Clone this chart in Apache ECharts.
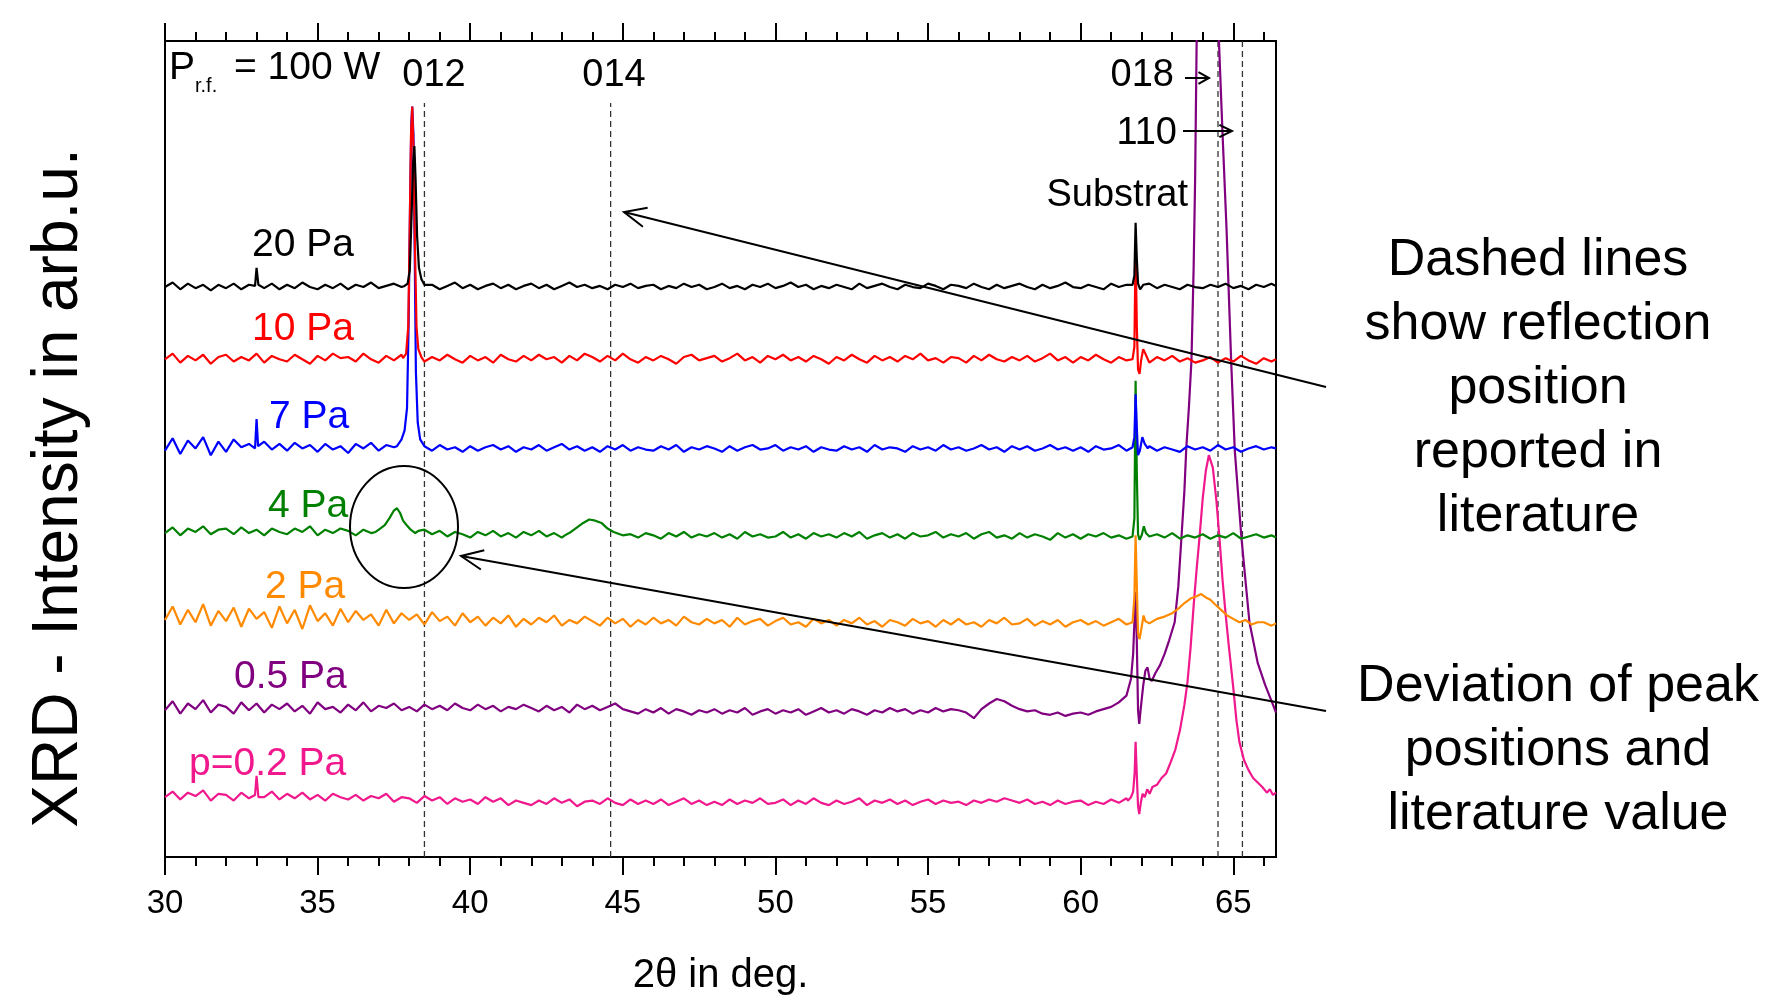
<!DOCTYPE html>
<html>
<head>
<meta charset="utf-8">
<title>XRD - pressure series</title>
<script src="https://cdn.jsdelivr.net/npm/echarts@6.0.0/dist/echarts.min.js"></script>
<style>
  html, body { margin: 0; padding: 0; background: #fff; }
  #chart { width: 1770px; height: 1001px; }
</style>
</head>
<body>
<div id="chart"></div>
<script>
// ========== data (intensity in arb. units) ==========

// 2theta grid of the baseline readings, 0.25 deg steps (one row = 2 deg)
const angles = [
  30, 30.25, 30.5, 30.75, 31, 31.25, 31.5, 31.75,
  32, 32.25, 32.5, 32.75, 33, 33.25, 33.5, 33.75,
  34, 34.25, 34.5, 34.75, 35, 35.25, 35.5, 35.75,
  36, 36.25, 36.5, 36.75, 37, 37.25, 37.5, 37.75,
  38, 38.25, 38.5, 38.75, 39, 39.25, 39.5, 39.75,
  40, 40.25, 40.5, 40.75, 41, 41.25, 41.5, 41.75,
  42, 42.25, 42.5, 42.75, 43, 43.25, 43.5, 43.75,
  44, 44.25, 44.5, 44.75, 45, 45.25, 45.5, 45.75,
  46, 46.25, 46.5, 46.75, 47, 47.25, 47.5, 47.75,
  48, 48.25, 48.5, 48.75, 49, 49.25, 49.5, 49.75,
  50, 50.25, 50.5, 50.75, 51, 51.25, 51.5, 51.75,
  52, 52.25, 52.5, 52.75, 53, 53.25, 53.5, 53.75,
  54, 54.25, 54.5, 54.75, 55, 55.25, 55.5, 55.75,
  56, 56.25, 56.5, 56.75, 57, 57.25, 57.5, 57.75,
  58, 58.25, 58.5, 58.75, 59, 59.25, 59.5, 59.75,
  60, 60.25, 60.5, 60.75, 61, 61.25, 61.5, 61.75,
  62, 62.25, 62.5, 62.75, 63, 63.25, 63.5, 63.75,
  64, 64.25, 64.5, 64.75, 65, 65.25, 65.5, 65.75,
  66, 66.25, 66.4
]

// 20 Pa
const base20 = [
  505, 509, 503, 508, 504, 507, 502, 507,
  504, 508, 503, 507, 506, 504, 508, 503,
  507, 504, 509, 505, 503, 507, 504, 508,
  503, 507, 505, 509, 504, 506, 508, 505,
  506, 508, 504, 507, 503, 506, 509, 504,
  507, 503, 506, 508, 504, 507, 503, 506,
  508, 504, 507, 503, 506, 509, 505, 507,
  504, 506, 503, 507, 505, 508, 504, 506,
  507, 503, 506, 504, 508, 505, 507, 503,
  505, 508, 504, 506, 503, 507, 505, 508,
  504, 506, 509, 505, 507, 503, 506, 504,
  507, 505, 503, 508, 504, 506, 508, 505,
  503, 507, 505, 504, 508, 506, 503, 507,
  506, 504, 508, 505, 503, 507, 504, 506,
  508, 505, 503, 507, 504, 506, 509, 505,
  504, 507, 505, 503, 508, 505, 507, 504,
  506, 508, 504, 507, 505, 503, 507, 505,
  504, 507, 505, 508, 504, 506, 503, 507,
  505, 508, 506
]
const peaks20 = [
  [[32.95, 506], [33.0, 522], [33.06, 507]],
  [[37.85, 506], [37.95, 508], [38.02, 520], [38.08, 570], [38.13, 615], [38.17, 630], [38.21, 600],
   [38.26, 550], [38.32, 522], [38.4, 512], [38.5, 507]],
  [[61.7, 507], [61.76, 515], [61.8, 562], [61.84, 530], [61.88, 508], [61.95, 503], [62.05, 507]]
]

// 10 Pa
const base10 = [
  441, 446, 438, 444, 440, 445, 437, 443,
  445, 439, 443, 440, 446, 438, 444, 441,
  439, 445, 441, 437, 444, 440, 446, 442,
  443, 439, 446, 441, 438, 444, 440, 445,
  441, 444, 439, 443, 440, 445, 441, 438,
  444, 440, 443, 438, 445, 441, 439, 444,
  440, 445, 441, 443, 438, 444, 440, 446,
  443, 439, 444, 440, 446, 441, 438, 443,
  440, 444, 441, 437, 443, 445, 440, 442,
  444, 439, 442, 446, 440, 443, 438, 444,
  441, 445, 440, 443, 439, 444, 441, 437,
  443, 440, 445, 441, 438, 444, 440, 443,
  439, 444, 441, 446, 440, 442, 438, 443,
  442, 438, 444, 440, 445, 441, 439, 443,
  440, 444, 439, 442, 446, 440, 443, 438,
  443, 440, 445, 441, 438, 443, 440, 444,
  441, 438, 443, 440, 444, 439, 442, 438,
  440, 443, 438, 442, 439, 444, 440, 437,
  442, 439, 441
]
const peaks10 = [
  [[37.8, 442], [37.9, 446], [37.97, 470], [38.02, 560], [38.06, 640], [38.1, 665], [38.14, 630],
   [38.19, 540], [38.24, 470], [38.3, 450], [38.4, 443]],
  [[61.7, 441], [61.76, 452], [61.8, 540], [61.84, 470], [61.88, 432], [61.93, 428], [61.98, 440],
   [62.05, 450], [62.12, 446], [62.2, 441]]
]

// 7 Pa
const base7 = [
  360, 371, 357, 369, 362, 372, 356, 368,
  359, 370, 363, 366, 360, 368, 361, 366,
  360, 367, 362, 365, 359, 366, 361, 364,
  358, 366, 362, 367, 360, 365, 363, 359,
  366, 362, 364, 360, 365, 361, 363, 359,
  364, 360, 363, 365, 361, 364, 359, 363,
  361, 365, 360, 363, 366, 361, 364, 360,
  363, 359, 364, 361, 365, 360, 363, 361,
  360, 364, 361, 365, 359, 363, 361, 364,
  362, 359, 364, 360, 363, 365, 361, 362,
  365, 360, 363, 361, 364, 359, 363, 361,
  360, 364, 361, 363, 359, 365, 361, 363,
  362, 359, 364, 361, 363, 360, 365, 361,
  363, 360, 362, 365, 361, 363, 359, 364,
  361, 364, 360, 362, 365, 361, 363, 360,
  363, 359, 364, 361, 362, 365, 360, 363,
  361, 364, 360, 363, 361, 359, 364, 361,
  363, 360, 365, 361, 363, 359, 362, 364,
  361, 363, 362
]
const peaks7 = [
  [[32.95, 362], [33.0, 388], [33.05, 364]],
  [[37.6, 364], [37.75, 370], [37.85, 378], [37.93, 398], [37.98, 470], [38.03, 580], [38.07, 650],
   [38.1, 665], [38.14, 640], [38.18, 540], [38.22, 430], [38.28, 385], [38.36, 370], [38.5, 364]],
  [[61.7, 363], [61.76, 372], [61.8, 410], [61.84, 380], [61.88, 356], [61.94, 360], [62.02, 372],
   [62.1, 366], [62.2, 362]]
]

// 4 Pa
const base4 = [
  287, 292, 285, 291, 288, 293, 286, 290,
  291, 286, 292, 287, 290, 285, 291, 288,
  286, 291, 288, 293, 285, 290, 287, 291,
  289, 285, 290, 287, 292, 286, 289, 291,
  288, 285, 290, 286, 289, 284, 288, 286,
  283, 288, 285, 289, 284, 287, 283, 288,
  285, 289, 284, 287, 283, 288, 285, 287,
  284, 287, 283, 288, 285, 286, 283, 287,
  285, 282, 287, 284, 288, 283, 286, 284,
  287, 283, 286, 282, 288, 284, 286, 283,
  284, 288, 283, 286, 282, 287, 284, 286,
  283, 287, 284, 288, 282, 285, 287, 283,
  286, 282, 287, 284, 285, 288, 283, 286,
  284, 287, 282, 286, 288, 283, 285, 282,
  287, 283, 286, 284, 281, 287, 283, 286,
  282, 286, 284, 287, 283, 285, 282, 286,
  284, 281, 286, 283, 287, 282, 285, 283,
  286, 282, 285, 283, 287, 282, 284, 286,
  283, 285, 283
]
const peaks4 = [
  [[36.9, 288], [37.05, 291], [37.2, 294], [37.35, 300], [37.5, 307], [37.6, 309], [37.7, 305],
   [37.8, 298], [37.92, 294], [38.05, 290], [38.2, 287], [38.3, 289]],
  [[43.1, 285], [43.3, 288], [43.5, 292], [43.7, 296], [43.9, 299], [44.1, 298], [44.3, 296],
   [44.5, 291], [44.7, 288], [44.9, 286]],
  [[61.7, 284], [61.76, 300], [61.8, 422], [61.84, 340], [61.88, 286], [61.93, 281], [62.0, 285],
   [62.07, 293], [62.14, 287], [62.25, 284]]
]

// 2 Pa
const base2 = [
  210, 222, 206, 219, 208, 224, 205, 218,
  209, 221, 204, 220, 211, 217, 203, 222,
  207, 219, 202, 223, 209, 216, 205, 220,
  208, 218, 210, 215, 205, 219, 207, 216,
  210, 215, 206, 217, 209, 213, 205, 216,
  208, 213, 205, 212, 207, 214, 204, 211,
  206, 212, 208, 214, 205, 210, 207, 213,
  209, 205, 212, 207, 211, 204, 210, 206,
  212, 207, 210, 205, 213, 208, 206, 211,
  207, 210, 204, 212, 206, 209, 211, 205,
  209, 212, 206, 208, 204, 211, 207, 210,
  205, 210, 207, 212, 206, 209, 204, 210,
  208, 205, 211, 207, 209, 204, 210, 206,
  211, 206, 208, 204, 210, 207, 212, 206,
  207, 211, 205, 209, 206, 210, 204, 208,
  210, 206, 209, 205, 208, 211, 206, 209,
  207, 212, 209, 214, 218, 222, 226, 229,
  231, 228, 224, 219, 214, 210, 208, 206,
  208, 205, 207
]
const peaks2 = [
  [[61.7, 208], [61.76, 230], [61.8, 285], [61.84, 240], [61.88, 198], [61.93, 193], [62.0, 204],
   [62.06, 214], [62.12, 209], [62.25, 207], [62.5, 211], [62.75, 213], [63.0, 216], [63.2, 220],
   [63.4, 225], [63.6, 229], [63.8, 231], [63.95, 233], [64.1, 230], [64.25, 228], [64.4, 224],
   [64.6, 219], [64.8, 214], [65.0, 211], [65.2, 208], [65.4, 210], [65.6, 206], [65.8, 208]]
]

// 0.5 Pa
const base05 = [
  130, 138, 127, 136, 131, 139, 128, 135,
  133, 127, 137, 130, 136, 128, 135, 131,
  136, 129, 134, 127, 137, 131, 133, 128,
  135, 130, 137, 129, 134, 132, 136, 130,
  133, 129, 135, 131, 134, 130, 136, 132,
  130, 135, 131, 134, 129, 133, 131, 135,
  132, 129, 134, 130, 133, 128, 135, 131,
  134, 130, 133, 136, 131, 129, 127, 131,
  128, 132, 127, 131, 129, 126, 130, 128,
  131, 127, 130, 128, 132, 126, 129, 131,
  127, 130, 128, 131, 126, 129, 132, 128,
  130, 127, 131, 129, 126, 130, 128, 132,
  129, 131, 127, 130, 128, 132, 129, 131,
  130, 128, 123, 131, 136, 140, 138, 134,
  131, 129, 130, 127, 126, 128, 125, 127,
  128, 126, 129, 131, 133, 137, 143, 155,
  160, 165, 170, 180, 200, 260, 360, 560,
  900, 1000, 700, 440, 300, 240, 200, 170,
  155, 138, 128
]
const peaks05 = [
  [[61.55, 148], [61.65, 158], [61.72, 180], [61.77, 215], [61.8, 235], [61.84, 190], [61.88, 130],
   [61.92, 118], [61.97, 132], [62.05, 152], [62.12, 165], [62.19, 168], [62.26, 158], [62.33, 156],
   [62.45, 163], [62.6, 170], [62.75, 180], [62.9, 192], [63.08, 208], [63.2, 240], [63.3, 282],
   [63.4, 325], [63.46, 362], [63.55, 400], [63.63, 440], [63.7, 520], [63.75, 600], [63.8, 723],
   [63.9, 900], [64.1, 1100], [64.3, 1100], [64.45, 900], [64.53, 723], [64.65, 640], [64.78, 556],
   [64.93, 440], [65.05, 360], [65.27, 282], [65.53, 208], [65.8, 172], [66.05, 152], [66.3, 135],
   [66.4, 128]]
]

// 0.2 Pa
const base02 = [
  53, 58, 51, 57, 54, 59, 50, 56,
  55, 50, 57, 52, 56, 53, 58, 51,
  56, 52, 57, 51, 55, 50, 56, 53,
  51, 55, 50, 54, 52, 56, 49, 53,
  52, 48, 54, 50, 53, 47, 52, 49,
  51, 47, 53, 49, 52, 46, 50, 48,
  46, 50, 47, 52, 48, 51, 45, 49,
  50, 47, 52, 48, 46, 51, 47, 50,
  47, 51, 46, 49, 52, 47, 50, 46,
  49, 46, 51, 47, 50, 48, 52, 47,
  48, 51, 46, 50, 47, 52, 48, 46,
  50, 47, 49, 52, 46, 50, 48, 51,
  47, 50, 46, 49, 51, 47, 50, 48,
  49, 46, 50, 48, 51, 49, 52, 50,
  48, 51, 47, 49, 46, 50, 47, 49,
  50, 46, 49, 47, 51, 48, 52, 50,
  55, 58, 62, 70, 85, 120, 200, 300,
  340, 300, 210, 140, 95, 75, 65, 60,
  58, 54, 56
]
const peaks02 = [
  [[32.95, 55], [33.0, 72], [33.06, 53]],
  [[61.55, 50], [61.65, 53], [61.72, 58], [61.77, 75], [61.8, 102], [61.84, 72], [61.88, 45],
   [61.92, 38], [61.97, 48], [62.03, 56], [62.1, 53], [62.18, 60], [62.26, 56], [62.35, 62],
   [62.5, 64], [62.65, 70], [62.8, 74], [62.95, 84], [63.1, 95], [63.25, 112], [63.4, 135],
   [63.5, 155], [63.6, 185], [63.7, 222], [63.8, 255], [63.9, 285], [64.0, 318], [64.1, 342],
   [64.2, 356], [64.26, 357], [64.33, 345], [64.45, 315], [64.55, 282], [64.65, 245], [64.75, 215],
   [64.85, 188], [65.0, 150], [65.1, 122], [65.2, 102], [65.35, 86], [65.5, 77], [65.65, 70],
   [65.8, 66], [65.95, 62], [66.1, 57], [66.2, 60], [66.3, 55], [66.4, 57]]
]

// curves in drawing order (last one on top)
const curveNames = ['p=0.2 Pa', '0.5 Pa', '2 Pa', '4 Pa', '7 Pa', '10 Pa', '20 Pa']
const curveColors = ['#f0188c', '#800080', '#ff8a00', '#008000', '#0000ff', '#ff0000', '#000000']
const curveBases = [base02, base05, base2, base4, base7, base10, base20]
const curvePeaks = [peaks02, peaks05, peaks2, peaks4, peaks7, peaks10, peaks20]

// literature reflections (dashed lines)
const reflexNames = ['012', '014', '018', '110']
const reflexAngles = [38.5, 44.6, 64.5, 65.3]
const reflexTops = [668, 668, 723, 723]

// axis ticks
const majorTicks = [30, 35, 40, 45, 50, 55, 60, 65]
const minorTicks = [31, 32, 33, 34, 36, 37, 38, 39, 41, 42, 43, 44, 46, 47, 48, 49,
  51, 52, 53, 54, 56, 57, 58, 59, 61, 62, 63, 64, 66]

// ========== helpers ==========

const FONT = '"Liberation Sans", Arial, Helvetica, sans-serif'

/**
 * Baseline readings plus the peak readings; a peak segment
 * replaces the baseline points lying inside its angle range.
 */
function buildCurve (base, segs) {
  if (base.length !== angles.length) console.warn('length mismatch', base.length)
  let pts = angles.map((a, i) => [a, base[i]])
  segs.forEach(seg => {
    const lo = seg[0][0]
    const hi = seg[seg.length - 1][0]
    pts = pts.filter(p => p[0] < lo || p[0] > hi).concat(seg)
  })
  return pts.sort((p, q) => p[0] - q[0])
}

// straight arrow with an open head at (x2, y2)
function arrow (x1, y1, x2, y2, head, spread) {
  const a = Math.atan2(y1 - y2, x1 - x2)
  const w1 = [x2 + head * Math.cos(a + spread), y2 + head * Math.sin(a + spread)]
  const w2 = [x2 + head * Math.cos(a - spread), y2 + head * Math.sin(a - spread)]
  return [
    { type: 'line', shape: { x1, y1, x2, y2 }, style: { stroke: '#000', lineWidth: 2 }, z: 50 },
    { type: 'polyline', shape: { points: [w1, [x2, y2], w2] }, style: { stroke: '#000', lineWidth: 2, fill: null }, z: 50 }
  ]
}

function label (text, x, y, size, color, align) {
  return {
    type: 'text',
    x,
    y,
    z: 50,
    style: {
      text,
      fill: color || '#000',
      fontFamily: FONT,
      fontSize: size,
      align: align || 'left',
      verticalAlign: 'middle'
    }
  }
}

function xAxisPart (position, ticks, len, withLabel) {
  return {
    type: 'value',
    position,
    min: 30,
    max: 66.4,
    splitLine: { show: false },
    axisLine: { show: true, onZero: false, lineStyle: { color: '#000', width: 2 } },
    axisTick: { show: true, inside: false, length: len, customValues: ticks, lineStyle: { color: '#000', width: 2 } },
    axisLabel: withLabel
      ? { show: true, customValues: ticks, margin: 30, color: '#000', fontSize: 33, fontFamily: FONT }
      : { show: false }
  }
}

// ========== chart ==========

const chart = echarts.init(document.getElementById('chart'), null, { renderer: 'canvas' })

const series = []

reflexAngles.forEach((a, i) => {
  series.push({
    name: 'ref ' + reflexNames[i],
    type: 'line',
    data: [[a, 0], [a, reflexTops[i]]],
    symbol: 'none',
    silent: true,
    lineStyle: { color: '#333', width: 1.3, type: [6, 4] },
    z: 1
  })
})

curveNames.forEach((name, i) => {
  series.push({
    name,
    type: 'line',
    data: buildCurve(curveBases[i], curvePeaks[i]),
    symbol: 'none',
    clip: true,
    lineStyle: { color: curveColors[i], width: 2.2 },
    z: 2 + i
  })
})

// text annotations and arrows (pixel positions)
const labelPos = [[189, 764], [234, 677], [265, 587], [268, 506], [269, 417], [252, 329], [252, 245]]
const graphics = []
curveNames.forEach((name, i) => {
  graphics.push(label(name, labelPos[i][0], labelPos[i][1], 39, curveColors[i]))
})
graphics.push(label('P', 169, 68, 39))
graphics.push(label('r.f.', 195, 86, 20))
graphics.push(label('= 100 W', 234, 68, 39))
graphics.push(label(reflexNames[0], 434, 76, 38, '#000', 'center'))
graphics.push(label(reflexNames[1], 614, 76, 38, '#000', 'center'))
graphics.push(label(reflexNames[2], 1174, 76, 38, '#000', 'right'))
graphics.push(label(reflexNames[3], 1177, 134, 38, '#000', 'right'))
graphics.push(label('Substrat', 1188, 196, 38, '#000', 'right'))
graphics.push({
  type: 'text',
  x: 59,
  y: 488,
  rotation: Math.PI / 2,
  z: 50,
  style: { text: 'XRD - Intensity in arb.u.', fill: '#000', fontFamily: FONT, fontSize: 64, align: 'center', verticalAlign: 'middle' }
})
graphics.push({
  type: 'text',
  x: 1538,
  y: 389,
  z: 50,
  style: {
    text: 'Dashed lines\nshow reflection\nposition\nreported in\nliterature',
    fill: '#000', fontFamily: FONT, fontSize: 52, lineHeight: 64, align: 'center', verticalAlign: 'middle'
  }
})
graphics.push({
  type: 'text',
  x: 1558,
  y: 751,
  z: 50,
  style: {
    text: 'Deviation of peak\npositions and\nliterature value',
    fill: '#000', fontFamily: FONT, fontSize: 52, lineHeight: 64, align: 'center', verticalAlign: 'middle'
  }
})
graphics.push({
  type: 'ellipse',
  shape: { cx: 404, cy: 527, rx: 54, ry: 61 },
  style: { stroke: '#000', fill: null, lineWidth: 2 },
  z: 50
})
graphics.push(...arrow(1326, 387, 624, 212, 24, 0.42))
graphics.push(...arrow(1326, 711, 461, 556, 24, 0.42))
graphics.push(...arrow(1185, 78, 1209, 78, 12, 0.5))
graphics.push(...arrow(1183, 131, 1232, 131, 14, 0.45))

const bottomMajor = xAxisPart('bottom', majorTicks, 18, true)
bottomMajor.name = '2θ in deg.'
bottomMajor.nameLocation = 'middle'
bottomMajor.nameGap = 99
bottomMajor.nameTextStyle = { color: '#000', fontSize: 40, fontFamily: FONT }

chart.setOption({
  animation: false,
  backgroundColor: '#fff',
  grid: { left: 165, right: 494, top: 41, bottom: 143, show: true, borderColor: '#000', borderWidth: 2 },
  xAxis: [
    bottomMajor,
    xAxisPart('bottom', minorTicks, 9, false),
    xAxisPart('top', majorTicks, 18, false),
    xAxisPart('top', minorTicks, 9, false)
  ],
  yAxis: {
    type: 'value',
    min: 0,
    max: 723,
    splitLine: { show: false },
    axisLine: { show: true, lineStyle: { color: '#000', width: 2 } },
    axisTick: { show: false },
    axisLabel: { show: false }
  },
  series,
  graphic: { elements: graphics }
})
</script>
</body>
</html>
